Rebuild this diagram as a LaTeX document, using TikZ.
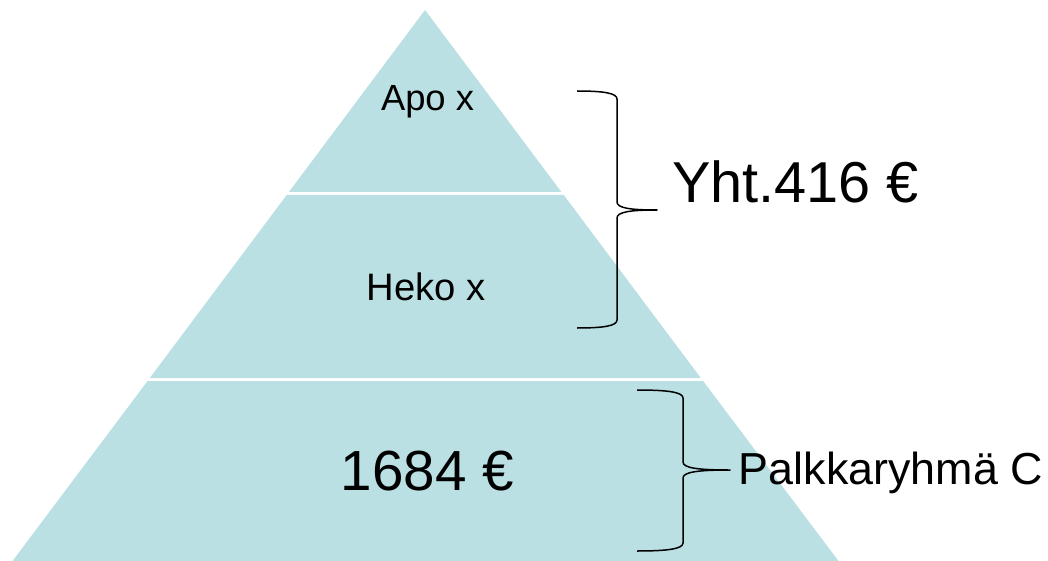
\documentclass[tikz,border=0pt]{standalone}
\usepackage{fontspec}
\usepackage{graphicx}
\setmainfont{Liberation Sans}
\definecolor{pyr}{RGB}{186,224,228}
\begin{document}
\begin{tikzpicture}[x=1pt,y=-1pt,
  band/.style={fill=pyr,draw=none},
  brace/.style={draw=black,line width=1.5pt,line join=round},
  lbl/.style={inner sep=0pt,anchor=base,text=black}]
\useasboundingbox (0,0) rectangle (1048,561);
% pyramid bands
\fill[band] (425,10) -- (561.4,192) -- (288.9,192) -- cycle;
\fill[band] (286.7,195) -- (563.7,195) -- (700.8,378) -- (149.8,378) -- cycle;
\fill[band] (147.6,381) -- (703.1,381) -- (840,563) -- (11,563) -- cycle;
% labels
\node[lbl] (apo) at (427.5,111) {\resizebox{93pt}{!}{Apo x}};
\node[lbl] (heko) at (426.5,300) {\resizebox{119pt}{!}{Heko x}};
\node[lbl] (base) at (427.5,490) {\resizebox{173pt}{!}{1684 €}};
\node[lbl] (yht) at (795.5,203) {\resizebox{247pt}{!}{Yht.416 €}};
\node[lbl] (palkka) at (891,484) {\resizebox{304pt}{!}{Palkkaryhmä C}};
% upper brace
\coordinate (ua) at (577,91);
\coordinate (ut) at (657,210);
\coordinate (ub) at (577,328);
\draw[brace] (ua) .. controls (603,91) and (617,93) .. (617,99)
  -- (617,202) .. controls (617,208) and (630,210) .. (ut)
  .. controls (630,210) and (617,212) .. (617,218)
  -- (617,320) .. controls (617,326) and (603,328) .. (ub);
% lower brace
\coordinate (la) at (637,390);
\coordinate (lt) at (730,470);
\coordinate (lb) at (637,551);
\draw[brace] (la) .. controls (667,390) and (683,392) .. (683,398)
  -- (683,462) .. controls (683,468) and (698,470) .. (lt)
  .. controls (698,470) and (683,472) .. (683,478)
  -- (683,543) .. controls (683,549) and (667,551) .. (lb);
\end{tikzpicture}
\end{document}
